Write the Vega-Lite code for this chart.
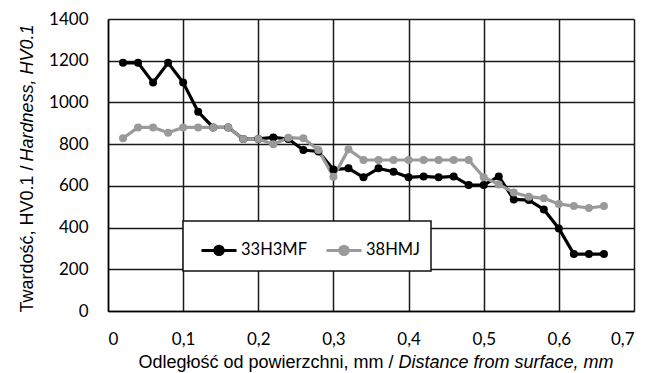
{
  "$schema": "https://vega.github.io/schema/vega-lite/v6.json",
  "autosize": "none",
  "width": 526,
  "height": 292,
  "padding": {"left": 108, "top": 19, "right": 11, "bottom": 62},
  "background": "white",
  "config": {
    "view": {"stroke": null},
    "axis": {"labelFont": "Lato", "labelFontSize": 17, "labelColor": "#000", "titleFont": "Liberation Sans", "titleFontSize": 18, "titleFontWeight": "normal", "titleColor": "#000"}
  },
  "data": {"values": [
    {"d": 0.02, "hv": 1190, "s": "33H3MF"},
    {"d": 0.04, "hv": 1190, "s": "33H3MF"},
    {"d": 0.06, "hv": 1095, "s": "33H3MF"},
    {"d": 0.08, "hv": 1190, "s": "33H3MF"},
    {"d": 0.10, "hv": 1095, "s": "33H3MF"},
    {"d": 0.12, "hv": 955, "s": "33H3MF"},
    {"d": 0.14, "hv": 880, "s": "33H3MF"},
    {"d": 0.16, "hv": 880, "s": "33H3MF"},
    {"d": 0.18, "hv": 825, "s": "33H3MF"},
    {"d": 0.20, "hv": 825, "s": "33H3MF"},
    {"d": 0.22, "hv": 832, "s": "33H3MF"},
    {"d": 0.24, "hv": 825, "s": "33H3MF"},
    {"d": 0.26, "hv": 772, "s": "33H3MF"},
    {"d": 0.28, "hv": 765, "s": "33H3MF"},
    {"d": 0.30, "hv": 678, "s": "33H3MF"},
    {"d": 0.32, "hv": 684, "s": "33H3MF"},
    {"d": 0.34, "hv": 641, "s": "33H3MF"},
    {"d": 0.36, "hv": 684, "s": "33H3MF"},
    {"d": 0.38, "hv": 668, "s": "33H3MF"},
    {"d": 0.40, "hv": 641, "s": "33H3MF"},
    {"d": 0.42, "hv": 645, "s": "33H3MF"},
    {"d": 0.44, "hv": 641, "s": "33H3MF"},
    {"d": 0.46, "hv": 645, "s": "33H3MF"},
    {"d": 0.48, "hv": 604, "s": "33H3MF"},
    {"d": 0.50, "hv": 604, "s": "33H3MF"},
    {"d": 0.52, "hv": 645, "s": "33H3MF"},
    {"d": 0.54, "hv": 535, "s": "33H3MF"},
    {"d": 0.56, "hv": 532, "s": "33H3MF"},
    {"d": 0.58, "hv": 487, "s": "33H3MF"},
    {"d": 0.60, "hv": 396, "s": "33H3MF"},
    {"d": 0.62, "hv": 273, "s": "33H3MF"},
    {"d": 0.64, "hv": 273, "s": "33H3MF"},
    {"d": 0.66, "hv": 273, "s": "33H3MF"},
    {"d": 0.02, "hv": 828, "s": "38HMJ"},
    {"d": 0.04, "hv": 880, "s": "38HMJ"},
    {"d": 0.06, "hv": 880, "s": "38HMJ"},
    {"d": 0.08, "hv": 855, "s": "38HMJ"},
    {"d": 0.10, "hv": 880, "s": "38HMJ"},
    {"d": 0.12, "hv": 880, "s": "38HMJ"},
    {"d": 0.14, "hv": 880, "s": "38HMJ"},
    {"d": 0.16, "hv": 880, "s": "38HMJ"},
    {"d": 0.18, "hv": 825, "s": "38HMJ"},
    {"d": 0.20, "hv": 825, "s": "38HMJ"},
    {"d": 0.22, "hv": 799, "s": "38HMJ"},
    {"d": 0.24, "hv": 831, "s": "38HMJ"},
    {"d": 0.26, "hv": 828, "s": "38HMJ"},
    {"d": 0.28, "hv": 772, "s": "38HMJ"},
    {"d": 0.30, "hv": 644, "s": "38HMJ"},
    {"d": 0.32, "hv": 775, "s": "38HMJ"},
    {"d": 0.34, "hv": 724, "s": "38HMJ"},
    {"d": 0.36, "hv": 724, "s": "38HMJ"},
    {"d": 0.38, "hv": 724, "s": "38HMJ"},
    {"d": 0.40, "hv": 724, "s": "38HMJ"},
    {"d": 0.42, "hv": 724, "s": "38HMJ"},
    {"d": 0.44, "hv": 724, "s": "38HMJ"},
    {"d": 0.46, "hv": 724, "s": "38HMJ"},
    {"d": 0.48, "hv": 724, "s": "38HMJ"},
    {"d": 0.50, "hv": 641, "s": "38HMJ"},
    {"d": 0.52, "hv": 607, "s": "38HMJ"},
    {"d": 0.54, "hv": 568, "s": "38HMJ"},
    {"d": 0.56, "hv": 548, "s": "38HMJ"},
    {"d": 0.58, "hv": 540, "s": "38HMJ"},
    {"d": 0.60, "hv": 513, "s": "38HMJ"},
    {"d": 0.62, "hv": 503, "s": "38HMJ"},
    {"d": 0.64, "hv": 494, "s": "38HMJ"},
    {"d": 0.66, "hv": 503, "s": "38HMJ"}
  ]},
  "encoding": {
    "color": {
      "field": "s", "type": "nominal",
      "scale": {"domain": ["33H3MF", "38HMJ"], "range": ["#000000", "#9a9a9a"]},
      "legend": {
        "title": null, "orient": "none", "legendX": 75, "legendY": 202, "direction": "horizontal",
        "fillColor": "white", "strokeColor": "#111", "padding": 10,
        "symbolType": "M-1,0L1,0M0.24,0A0.24,0.24,0,1,1,-0.24,0A0.24,0.24,0,1,1,0.24,0Z",
        "symbolSize": 1225, "symbolStrokeWidth": 3, "symbolOffset": 7,
        "labelOffset": 3, "columnPadding": 11,
        "labelFont": "Lato", "labelFontSize": 16.5, "labelColor": "#000",
        "encode": {
          "legend": {"update": {"strokeWidth": {"value": 1.5}}},
          "symbols": {"update": {"fill": {"scale": "color", "field": "value"}, "stroke": {"scale": "color", "field": "value"}, "opacity": {"value": 1}}}
        }
      }
    }
  },
  "layer": [
    {
      "mark": {"type": "line", "strokeWidth": 3.2},
      "encoding": {
        "x": {"field": "d", "type": "quantitative",
          "scale": {"domain": [0, 0.7], "nice": false, "zero": false},
          "axis": {"values": [0, 0.1, 0.2, 0.3, 0.4, 0.5, 0.6, 0.7], "labelExpr": "datum.value == 0 ? '0' : replace(format(datum.value, '.1f'), '.', ',')",
            "ticks": false, "labelPadding": 20, "grid": true, "gridColor": "#1a1a1a", "gridWidth": 1.5,
            "domainColor": "#000", "domainWidth": 1.5,
            "title": "Odległość od powierzchni, mm /", "titleAlign": "right", "titleX": 285, "titleY": 56, "titleBaseline": "alphabetic"}},
        "y": {"field": "hv", "type": "quantitative",
          "scale": {"domain": [0, 1400], "nice": false},
          "axis": {"values": [0, 200, 400, 600, 800, 1000, 1200, 1400], "format": "d",
            "ticks": false, "labelPadding": 20, "grid": true, "gridColor": "#1a1a1a", "gridWidth": 1.5,
            "domainColor": "#000", "domainWidth": 1.5,
            "title": "Twardość, HV0.1 /", "titleAngle": -90, "titleAlign": "right", "titleX": -76, "titleY": 146, "titleBaseline": "alphabetic"}}
      }
    },
    {
      "mark": {"type": "point", "filled": true, "size": 64, "opacity": 1},
      "encoding": {
        "x": {"field": "d", "type": "quantitative",
          "scale": {"domain": [0, 0.7], "nice": false, "zero": false},
          "axis": {"orient": "bottom", "labels": false, "ticks": false, "grid": false, "domain": false,
            "title": "Distance from surface, mm", "titleFontStyle": "italic", "titleAlign": "left", "titleX": 290, "titleY": 56, "titleBaseline": "alphabetic"}},
        "y": {"field": "hv", "type": "quantitative",
          "scale": {"domain": [0, 1400], "nice": false},
          "axis": {"orient": "left", "labels": false, "ticks": false, "grid": false, "domain": false,
            "title": "Hardness, HV0.1", "titleFontStyle": "italic", "titleAngle": -90, "titleAlign": "left", "titleX": -76, "titleY": 142, "titleBaseline": "alphabetic"}}
      }
    }
  ],
  "resolve": {"axis": {"x": "independent", "y": "independent"}}
}
